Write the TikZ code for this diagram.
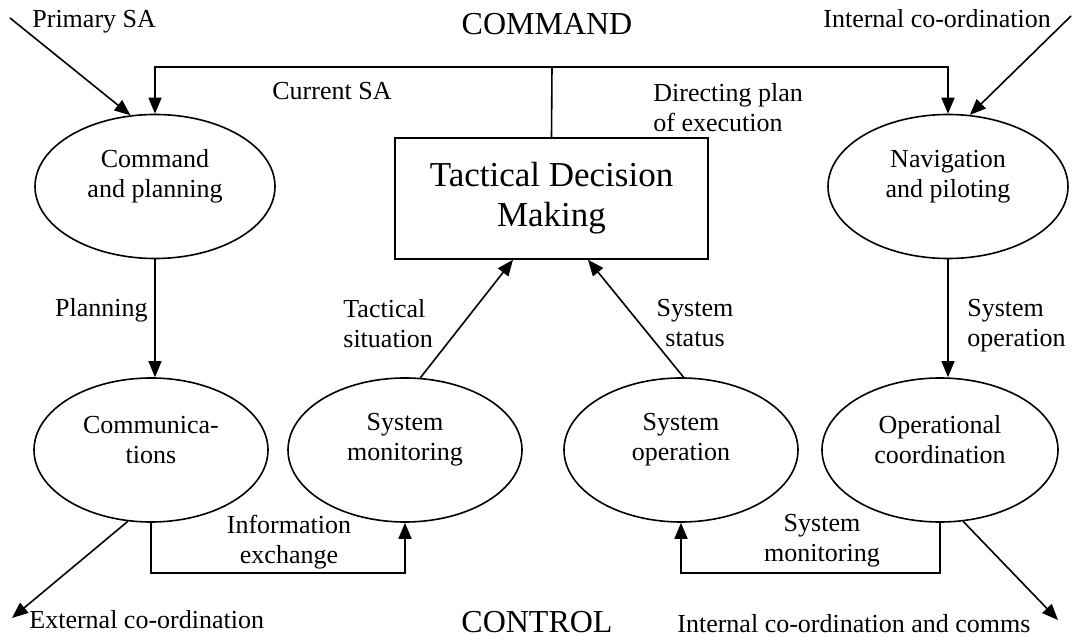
\documentclass[tikz,border=0pt]{standalone}
\usepackage{fontspec}
\setmainfont{Liberation Serif}
\usetikzlibrary{shapes.geometric, arrows.meta, positioning, calc}

\tikzset{
  txt/.style={font=\fontsize{13}{15}\selectfont, inner sep=0pt, align=center},
  big/.style={font=\fontsize{16}{19}\selectfont, inner sep=0pt},
  bubble/.style={ellipse, draw, line width=0.8pt, minimum width=120pt,
    minimum height=72pt, inner sep=0pt, label={[txt, yshift=5pt]center:#1}},
  link/.style={line width=0.8pt},
  flow/.style={link, -{Triangle[length=8pt, width=6.5pt]}},
}

\begin{document}
\begin{tikzpicture}[x=0.5pt, y=-0.5pt]
  \useasboundingbox (0,0) rectangle (1073,641);

  \node [bubble={Command\\and planning}] (cmd) at (155,186.5) {};
  \node [bubble={Navigation\\and piloting}] (nav) at (948,186.5) {};
  \node [bubble={Communica-\\tions}, minimum width=117pt] (comms) at (151,450) {};
  \node [bubble={System\\monitoring}, minimum width=117pt] (sysmon) at (405,450) {};
  \node [bubble={System\\operation}, minimum width=117pt] (sysop) at (681,450) {};
  \node [bubble={Operational\\coordination}, minimum width=118pt] (opc) at (940,450) {};
  \node [draw, link, minimum width=156.5pt, minimum height=60.5pt, align=center,
    font=\fontsize{17.5}{20}\selectfont] (tdm) at (551.5,198.5) {Tactical Decision\\Making};

  \coordinate (top) at (552,67);
  \coordinate (psa) at (10,18);
  \coordinate (icoord) at (1071,16);
  \coordinate (ext) at (12,618);
  \coordinate (icomms) at (1058,620);

  \draw [link] (tdm.north) -- (top);
  \draw [flow] (top) -| (cmd.north);
  \draw [flow] (top) -| (nav.north);
  \draw [flow] (psa) -- (cmd.109);
  \draw [flow] (icoord) -- (nav.73);
  \draw [flow] (cmd.south) -- (cmd.south |- comms.north);
  \draw [flow] (nav.south) -- (nav.south |- opc.north);
  \draw [flow] (sysmon.78) -- ([xshift=-19.25pt]tdm.south);
  \draw [flow] (sysop.88) -- ([xshift=18.25pt]tdm.south);
  \draw [flow] (comms.south) -- ++(0,50) -| (sysmon.south);
  \draw [flow] (opc.south) -- ++(0,50) -| (sysop.south);
  \draw [flow] (comms.252) -- (ext);
  \draw [flow] (opc.288) -- (icomms);

  \node [big, anchor=base] (command) at (547,35) {COMMAND};
  \node [big, anchor=base] (control) at (537,633) {CONTROL};
  \node [txt, anchor=base west] (primsa) at (32,28) {Primary SA};
  \node [txt, anchor=base west] (intco) at (823,28) {Internal co-ordination};
  \node [txt, anchor=base west] (cursa) at (272,100) {Current SA};
  \node [txt, align=left, anchor=north west] (direct) at (653,83) {Directing plan\\of execution};
  \node [txt, anchor=base east] (plan) at (148,317) {Planning};
  \node [txt, align=left, anchor=north west] (tactsit) at (343,299) {Tactical\\situation};
  \node [txt, anchor=north] (sysstat) at (695,299) {System\\status};
  \node [txt, align=left, anchor=north west] (sysopl) at (967,299) {System\\operation};
  \node [txt, anchor=north] (infoex) at (289,515) {Information\\exchange};
  \node [txt, anchor=north] (sysmonl) at (822,514) {System\\monitoring};
  \node [txt, anchor=base west] (extco) at (29,629) {External co-ordination};
  \node [txt, anchor=base west] (intcomms) at (677,633) {Internal co-ordination and comms};
\end{tikzpicture}
\end{document}
